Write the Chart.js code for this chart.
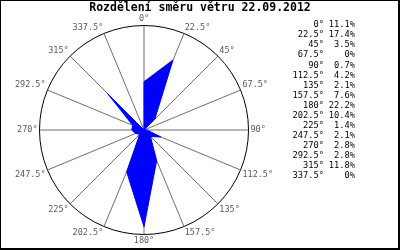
<!DOCTYPE html>
<html>
<head>
<meta charset="utf-8">
<script src="https://cdn.jsdelivr.net/npm/chart.js@4.4.0/dist/chart.umd.min.js"></script>
<style>
html,body{margin:0;padding:0;background:#fff;}
#wrap{width:400px;height:250px;position:relative;}
canvas{display:block;}
</style>
</head>
<body>
<div id="wrap"><canvas id="c" width="400" height="250"></canvas></div>
<script>
const titleText = 'Rozdělení směru větru 22.09.2012';
const directions = ['0°','22.5°','45°','67.5°','90°','112.5°','135°','157.5°','180°','202.5°','225°','247.5°','270°','292.5°','315°','337.5°'];
const percents = [11.1, 17.4, 3.5, 0, 0.7, 4.2, 2.1, 7.6, 22.2, 10.4, 1.4, 2.1, 2.8, 2.8, 11.8, 0];
const scaleMax = 24;

const extras = {
  id: 'extras',
  beforeDraw(chart) {
    const ctx = chart.ctx;
    ctx.save();
    ctx.fillStyle = '#ffffff';
    ctx.fillRect(0, 0, chart.width, chart.height);
    ctx.restore();
  },
  afterDraw(chart) {
    const ctx = chart.ctx;
    ctx.save();
    // title
    ctx.fillStyle = '#000000';
    ctx.font = 'bold 11.5px "DejaVu Sans Mono"';
    ctx.textAlign = 'center';
    ctx.textBaseline = 'middle';
    ctx.fillText(titleText, 200, 8.5);
    // legend
    ctx.font = '8.7px "DejaVu Sans Mono"';
    ctx.textAlign = 'right';
    for (let i = 0; i < directions.length; i++) {
      const y = 25 + i * 10.07;
      ctx.fillText(directions[i], 324, y);
      ctx.fillText(String(percents[i]) + '%', 355, y);
    }
    // frame
    ctx.fillRect(0, 0, 400, 1);
    ctx.fillRect(0, 0, 1, 250);
    ctx.fillRect(398, 0, 2, 250);
    ctx.fillRect(0, 248, 400, 2);
    ctx.restore();
  }
};

new Chart(document.getElementById('c'), {
  type: 'radar',
  data: {
    labels: directions,
    datasets: [{
      data: percents,
      backgroundColor: '#0000ff',
      borderColor: '#0000ff',
      borderWidth: 1,
      pointRadius: 0,
      pointHoverRadius: 0,
      fill: true,
      tension: 0
    }]
  },
  options: {
    responsive: false,
    animation: false,
    events: [],
    layout: { padding: { left: 12, right: 123, top: 15, bottom: 5 } },
    plugins: {
      legend: { display: false },
      title: { display: false },
      tooltip: { enabled: false }
    },
    scales: {
      r: {
        min: 0,
        max: scaleMax,
        ticks: { display: false, stepSize: scaleMax },
        grid: { circular: true, color: '#000000', lineWidth: 1 },
        angleLines: { display: true, color: '#6e6e6e', lineWidth: 1 },
        pointLabels: {
          display: true,
          color: '#5a5a5a',
          padding: 2,
          font: { family: 'DejaVu Sans Mono', size: 8.5, lineHeight: 1 }
        }
      }
    }
  },
  plugins: [extras]
});
</script>
</body>
</html>
